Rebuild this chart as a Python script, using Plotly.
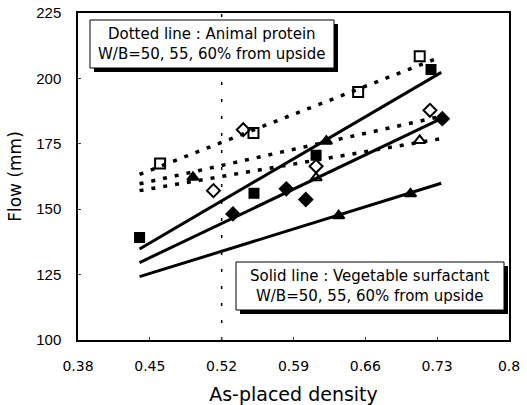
import plotly.graph_objects as go

# Animal protein (open markers, dotted lines)
ap_sq_x = [0.46, 0.551, 0.653, 0.713]
ap_sq_y = [167.5, 179.1, 194.8, 208.5]
ap_di_x = [0.512, 0.541, 0.612, 0.723]
ap_di_y = [157.1, 180.4, 166.4, 187.8]
ap_tri_x = [0.612, 0.713]
ap_tri_y = [162.0, 176.3]
ap_tri_f_x = [0.492]
ap_tri_f_y = [162.2]

# Vegetable surfactant (filled markers, solid lines)
vs_sq_x = [0.44, 0.5515, 0.612, 0.724]
vs_sq_y = [139.2, 156.1, 170.6, 203.4]
vs_di_x = [0.531, 0.583, 0.602, 0.735]
vs_di_y = [148.2, 157.8, 153.7, 184.6]
vs_tri_x = [0.622, 0.634, 0.704]
vs_tri_y = [176.0, 147.5, 155.9]

# Fitted lines (start/end)
fit_x = [0.44, 0.734]
dot_top = [163.3, 208.3]
dot_mid = [159.7, 185.5]
dot_bot = [157.1, 177.0]
sol_top = [134.8, 202.3]
sol_mid = [129.6, 184.6]
sol_bot = [124.2, 159.9]

ref_x = 0.52
x_ticks = [0.38, 0.45, 0.52, 0.59, 0.66, 0.73, 0.8]
x_tick_labels = ["0.38", "0.45", "0.52", "0.59", "0.66", "0.73", "0.8"]
y_ticks = [100, 125, 150, 175, 200, 225]

fig = go.Figure()

for yy in [dot_top, dot_mid, dot_bot]:
    fig.add_trace(go.Scatter(x=fit_x, y=yy, mode="lines",
                             line=dict(color="black", width=3.5, dash="4px,8px"),
                             showlegend=False, hoverinfo="skip"))
for yy in [sol_top, sol_mid, sol_bot]:
    fig.add_trace(go.Scatter(x=fit_x, y=yy, mode="lines",
                             line=dict(color="black", width=3),
                             showlegend=False, hoverinfo="skip"))

fig.add_trace(go.Scatter(x=[ref_x, ref_x], y=[100, 225], mode="lines",
                         line=dict(color="black", width=1.5, dash="3px,14px"),
                         showlegend=False, hoverinfo="skip"))

def mk(x, y, sym, size):
    fig.add_trace(go.Scatter(x=x, y=y, mode="markers",
                             marker=dict(symbol=sym, size=size, color="black",
                                         line=dict(color="black", width=2)),
                             showlegend=False))

mk(ap_sq_x, ap_sq_y, "square-open", 10)
mk(ap_di_x, ap_di_y, "diamond-open", 10)
mk(ap_tri_x, ap_tri_y, "triangle-up-open", 10)
mk(ap_tri_f_x, ap_tri_f_y, "triangle-up", 10)
mk(vs_sq_x, vs_sq_y, "square", 9)
mk(vs_di_x, vs_di_y, "diamond", 10)
mk(vs_tri_x, vs_tri_y, "triangle-up", 10)

font_wide = "DejaVu Sans, sans-serif"
font_narrow = "Liberation Sans, Arial, sans-serif"

fig.update_layout(
    width=527, height=405,
    margin=dict(l=78, r=18, t=13, b=65),
    plot_bgcolor="white", paper_bgcolor="white",
    font=dict(family=font_wide, size=14, color="black"),
    xaxis=dict(range=[0.38, 0.8], tickvals=x_ticks, ticktext=x_tick_labels,
               tickfont=dict(family=font_wide, size=14), automargin=False,
               showgrid=False, zeroline=False, showline=True, mirror=True,
               linecolor="black", linewidth=1.5, ticks="inside", ticklen=3,
               ticklabelstandoff=12,
               title=dict(text="As-placed density", font=dict(family=font_wide, size=19), standoff=15)),
    yaxis=dict(range=[100, 225], tickvals=y_ticks,
               tickfont=dict(family=font_narrow, size=15), automargin=False,
               showgrid=False, zeroline=False, showline=True, mirror=True,
               linecolor="black", linewidth=1.5, ticks="inside", ticklen=3,
               ticklabelstandoff=12,
               title=dict(text="Flow (mm)", font=dict(family=font_wide, size=17), standoff=10)),
)

# Legend boxes with shadows (paper coords)
W, H = 527 - 78 - 18, 405 - 13 - 65
def px2paper(px, py):
    return (px - 78) / W, (405 - 65 - py) / H

def box(x0, y0, x1, y1, text):
    sx0, sy1 = px2paper(x0 + 4, y1 + 4)
    sx1, sy0 = px2paper(x1 + 4, y0 + 4)
    fig.add_shape(type="rect", xref="paper", yref="paper",
                  x0=sx0, x1=sx1, y0=sy1, y1=sy0,
                  fillcolor="black", line=dict(width=0), layer="above")
    bx0, by1 = px2paper(x0, y1)
    bx1, by0 = px2paper(x1, y0)
    fig.add_shape(type="rect", xref="paper", yref="paper",
                  x0=bx0, x1=bx1, y0=by1, y1=by0,
                  fillcolor="white", line=dict(color="black", width=1), layer="above")
    cx, cy = px2paper((x0 + x1) / 2, (y0 + y1) / 2)
    fig.add_annotation(xref="paper", yref="paper", x=cx, y=cy, text=text,
                       showarrow=False, font=dict(size=15, family=font_wide),
                       align="center", xanchor="center", yanchor="middle")

box(90, 20, 334, 68, "Dotted line : Animal protein<br>W/B=50, 55, 60% from upside")
box(236, 262, 504, 310, "Solid line : Vegetable surfactant<br>W/B=50, 55, 60% from upside")

fig.write_html("out.html")
